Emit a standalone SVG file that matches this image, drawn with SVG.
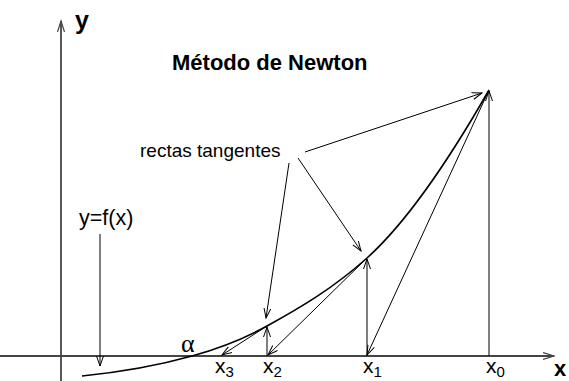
<svg xmlns="http://www.w3.org/2000/svg" width="569" height="381" viewBox="0 0 569 381">
<style>
.t{font-family:"Liberation Sans",Arial,sans-serif;fill:#000}
.b{font-weight:bold}
.ax{stroke:#444;stroke-width:1.8;fill:none}
.ar{stroke:#000;stroke-width:1;fill:none}
.cv{stroke:#000;stroke-width:1.6;fill:none}
</style>
<defs>
<marker id="h" markerUnits="userSpaceOnUse" markerWidth="12" markerHeight="10" refX="10" refY="4" orient="auto">
<path d="M0,0.5 L10,4 L0,7.5" fill="none" stroke="#000" stroke-width="1"/>
</marker>
<marker id="ha" markerUnits="userSpaceOnUse" markerWidth="14" markerHeight="10" refX="11" refY="4" orient="auto">
<path d="M0,0.5 L11,4 L0,7.5" fill="none" stroke="#444" stroke-width="1.2"/>
</marker>
</defs>
<g id="axes">
<line class="ax" x1="61" y1="381" x2="61" y2="21" marker-end="url(#ha)"/>
<line class="ax" x1="0" y1="356" x2="554" y2="356" marker-end="url(#ha)"/>
<text class="t b" x="75" y="29" font-size="25">y</text>
<text class="t b" x="554" y="376" font-size="22">x</text>
</g>
<g id="title"><text class="t b" x="172" y="70" font-size="22">Método de Newton</text></g>
<g id="curve">
<path class="cv" d="M82,376 C118.7,372.3 155.3,366.3 192,356 C217,349 242,339.8 267,326 C300.3,307.7 333.7,288 367,258 C407.7,221.4 448.3,161.2 489,90"/>
<text class="t" x="79" y="225" font-size="21.5">y=f(x)</text>
<text x="181" y="352" font-size="26" font-family="Liberation Serif,serif">α</text>
</g>
<g id="labels">
<text class="t" x="215" y="373" font-size="21">x<tspan font-size="15" dy="4">3</tspan></text>
<text class="t" x="263" y="373" font-size="21">x<tspan font-size="15" dy="4">2</tspan></text>
<text class="t" x="363" y="373" font-size="21">x<tspan font-size="15" dy="4">1</tspan></text>
<text class="t" x="486" y="373" font-size="21">x<tspan font-size="15" dy="4">0</tspan></text>
<text class="t" x="140" y="157" font-size="19">rectas tangentes</text>
</g>
<g id="connectors">
<line class="ar" x1="489" y1="356" x2="489" y2="91" marker-end="url(#h)"/>
<line class="ar" x1="489" y1="90" x2="367" y2="355" marker-end="url(#h)"/>
<line class="ar" x1="367" y1="356" x2="367" y2="259" marker-end="url(#h)"/>
<line class="ar" x1="367" y1="258" x2="268" y2="355" marker-end="url(#h)"/>
<line class="ar" x1="267" y1="356" x2="267" y2="327" marker-end="url(#h)"/>
<line class="ar" x1="267" y1="326" x2="222" y2="355" marker-end="url(#h)"/>
<line class="ar" x1="305" y1="152" x2="482" y2="93" marker-end="url(#h)"/>
<line class="ar" x1="289" y1="163" x2="266" y2="318" marker-end="url(#h)"/>
<line class="ar" x1="298" y1="158" x2="361" y2="251" marker-end="url(#h)"/>
<line class="ar" x1="100" y1="234" x2="100" y2="366" marker-end="url(#h)"/>
</g>
</svg>
